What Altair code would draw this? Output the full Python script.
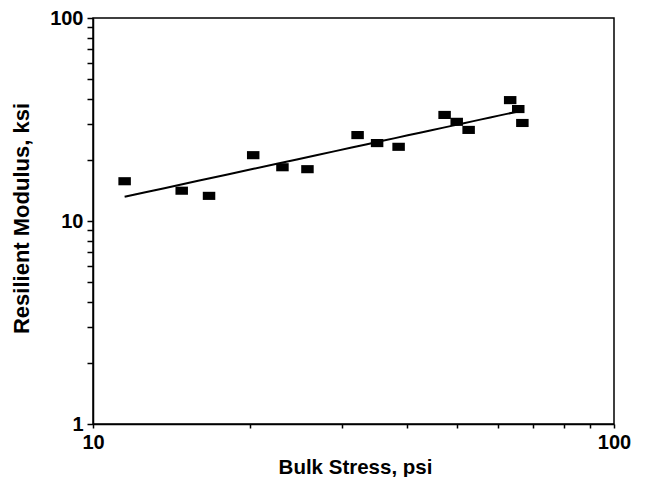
import altair as alt
import pandas as pd

bulk_stress = [11.5, 14.8, 16.7, 20.3, 23.1, 25.8, 32.2, 35.1, 38.6, 47.3, 49.9, 52.6, 63.2, 65.5, 66.7]
modulus = [15.7, 14.1, 13.3, 21.1, 18.4, 18.0, 26.5, 24.2, 23.2, 33.3, 30.8, 28.1, 39.4, 35.6, 30.4]
x_ticks = [10, 20, 30, 40, 50, 60, 70, 80, 90, 100]
y_ticks = [1, 2, 3, 4, 5, 6, 7, 8, 9, 10, 20, 30, 40, 50, 60, 70, 80, 90, 100]
x_labels = [10, 100]
y_labels = [1, 10, 100]

df = pd.DataFrame({"x": bulk_stress, "y": modulus})

FONT = "Liberation Sans"

xscale = alt.Scale(type="log", domain=[10, 100], nice=False)
yscale = alt.Scale(type="log", domain=[1, 100], nice=False)

x_lab_expr = "indexof(" + str(x_labels) + ", datum.value) >= 0 ? datum.value + '' : ''"
y_lab_expr = "indexof(" + str(y_labels) + ", datum.value) >= 0 ? datum.value + '' : ''"

xaxis = alt.Axis(
    title="Bulk Stress, psi", values=x_ticks, labelExpr=x_lab_expr,
    tickSize=4, tickColor="black", tickWidth=1.5, labelPadding=4,
    labelFlush=False, labelOverlap=False, grid=False,
    domainColor="black", domainWidth=1.5,
    labelFont=FONT, labelFontSize=20, labelFontWeight="bold", labelColor="black",
    titleFont=FONT, titleFontSize=20.5, titleFontWeight="bold", titleColor="black",
    titleX=262, titleY=49, titleBaseline="alphabetic",
)
yaxis = alt.Axis(
    title="Resilient Modulus, ksi", values=y_ticks, labelExpr=y_lab_expr,
    tickSize=6, tickColor="black", tickWidth=1.5, labelPadding=4,
    labelFlush=False, labelOverlap=False, grid=False,
    domainColor="black", domainWidth=1.5,
    labelFont=FONT, labelFontSize=20, labelFontWeight="bold", labelColor="black",
    titleFont=FONT, titleFontSize=22, titleFontWeight="bold", titleColor="black",
    titleX=-72, titleY=200, titleAngle=-90, titleBaseline="middle", titleAlign="center",
)

base = alt.Chart(df)

points = base.mark_point(
    shape="M-1,-0.65H1V0.65H-1Z", filled=True, color="black", opacity=1, size=156
).encode(
    x=alt.X("x:Q", scale=xscale, axis=xaxis),
    y=alt.Y("y:Q", scale=yscale, axis=yaxis),
)

fit = base.transform_regression("x", "y", method="pow").mark_line(
    color="black", strokeWidth=2
).encode(
    x=alt.X("x:Q", scale=xscale),
    y=alt.Y("y:Q", scale=yscale),
)

chart = alt.layer(fit, points).properties(
    width=521, height=406,
    background="white",
    autosize=alt.AutoSizeParams(type="none"),
    padding={"left": 93, "top": 18, "right": 33, "bottom": 53},
).configure_view(
    stroke="black", strokeWidth=1.5
)

chart.save("out.html", embed_options={"renderer": "svg", "actions": False})
